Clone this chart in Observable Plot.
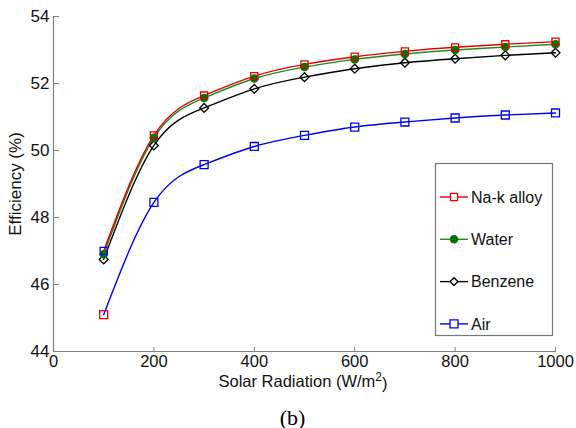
<!DOCTYPE html>
<html><head><meta charset="utf-8">
<script src="https://cdn.jsdelivr.net/npm/d3@7"></script>
<script src="https://cdn.jsdelivr.net/npm/@observablehq/plot@0.6"></script>
<style>body{margin:0;background:#fff}#chart{width:576px;height:428px}</style>
</head><body><div id="chart"></div>
<script>
const radiation = [100, 200, 300, 400, 500, 600, 700, 800, 900, 1000];
const naK     = [47.0, 50.45, 51.64, 52.22, 52.57, 52.80, 52.96, 53.08, 53.17, 53.25];
const water   = [46.9, 50.38, 51.57, 52.15, 52.49, 52.72, 52.88, 53.00, 53.09, 53.17];
const benzene = [46.75, 50.15, 51.27, 51.84, 52.19, 52.44, 52.62, 52.74, 52.84, 52.92];
const air     = [45.1, 48.45, 49.58, 50.12, 50.45, 50.70, 50.85, 50.97, 51.06, 51.12];
const seriesNames = ["Na-k alloy", "Water", "Benzene", "Air"];
const xTicks = [0, 200, 400, 600, 800, 1000];
const yTicks = [44, 46, 48, 50, 52, 54];

const valuesByName = {"Na-k alloy": naK, "Water": water, "Benzene": benzene, "Air": air};
const styleByName = {
  "Na-k alloy": {color: "#e60000", symbol: "square", fill: "none", r: 4},
  "Water": {color: "#1e8c1e", dotColor: "#007800", symbol: "circle", fill: "#007800", r: 3.6},
  "Benzene": {color: "#000000", symbol: "diamond2", fill: "none", r: 4},
  "Air": {color: "#0000f0", symbol: "square", fill: "none", r: 4.5}
};
// in the original the first markers of Na-k and Air are swapped in colour
const swapFirst = {"Na-k alloy": "Air", "Air": "Na-k alloy"};

const rows = seriesNames.flatMap(name => radiation.map((x, i) => ({x, y: valuesByName[name][i], name, i})));
const drawOrder = ["Air", "Benzene", "Water", "Na-k alloy"];

const font = "Liberation Sans, Arial, sans-serif";
const lines = drawOrder.map(name => Plot.line(rows.filter(d => d.name === name), {
  x: "x", y: "y", stroke: styleByName[name].color, strokeWidth: 1.4, curve: "natural"
}));
const dots = drawOrder.map(name => {
  const s = styleByName[name];
  const col = d => (d.i === 0 && swapFirst[name]) ? styleByName[swapFirst[name]].color : (s.dotColor || s.color);
  return Plot.dot(rows.filter(d => d.name === name), {
    x: "x", y: "y", symbol: () => s.symbol, r: s.r,
    stroke: col, fill: s.fill === "none" ? "none" : col, strokeWidth: 1.3
  });
});

const chart = Plot.plot({
  width: 576, height: 428,
  marginLeft: 53, marginRight: 21, marginTop: 16, marginBottom: 77,
  style: {fontFamily: font, fontSize: "17px", color: "#111", background: "#fff"},
  x: {domain: [0, 1000]},
  y: {domain: [44, 54]},
  marks: [
    Plot.ruleY([44], {stroke: "#808080", strokeWidth: 1.2}),
    Plot.ruleX([0], {stroke: "#808080", strokeWidth: 1.2}),
    Plot.axisX({ticks: xTicks, anchor: "top", frameAnchor: "bottom", tickSize: 5, text: null, stroke: "#808080", label: null}),
    Plot.axisY({ticks: yTicks, anchor: "right", frameAnchor: "left", tickSize: 5, text: null, stroke: "#808080", label: null}),
    Plot.axisX({ticks: xTicks, tickFormat: d => String(d), tickSize: 0, tickPadding: 4, fontSize: 16.5, label: null, fill: "#111"}),
    Plot.axisY({ticks: yTicks, tickFormat: d => String(d), tickSize: 0, tickPadding: 4, fontSize: 17, label: null, fill: "#111"}),
    ...lines,
    ...dots,
    Plot.text(["Solar Radiation (W/m2)"], {frameAnchor: "bottom", lineAnchor: "bottom", dy: 35, dx: -1.5, fontSize: 16.5, fill: "#111", className: "xlabel"}),
    Plot.text(["Efficiency (%)"], {frameAnchor: "left", textAnchor: "middle", rotate: -90, dx: -38, fontSize: 17, fill: "#111"}),
    Plot.text(["(b)"], {frameAnchor: "bottom", lineAnchor: "bottom", dy: 73, dx: -12, fontSize: 22, fontFamily: "Liberation Serif, Times New Roman, serif", fill: "#000"})
  ]
});
document.getElementById("chart").appendChild(chart);

const svg = d3.select(chart);
// superscript 2 in the x label
svg.selectAll(".xlabel text").each(function () {
  const t = d3.select(this);
  const full = t.text();
  const base = full.slice(0, full.lastIndexOf("2"));
  t.text(null);
  t.append("tspan").text(base);
  t.append("tspan").attr("dy", "-0.45em").attr("font-size", "12").text("2");
  t.append("tspan").attr("dy", "0.45em").text(")");
});

// legend
const lg = svg.append("g").attr("font-family", font).attr("font-size", 16).attr("text-anchor", "start");
lg.append("rect").attr("x", 435.5).attr("y", 163.5).attr("width", 117).attr("height", 172)
  .attr("fill", "#fff").attr("stroke", "#777").attr("stroke-width", 1.2);
seriesNames.forEach((name, k) => {
  const s = styleByName[name];
  const cy = 197 + k * 42.3;
  const g = lg.append("g");
  g.append("line").attr("x1", 440).attr("x2", 468).attr("y1", cy).attr("y2", cy)
    .attr("stroke", s.color).attr("stroke-width", 1.4);
  const sym = {square: d3.symbolSquare, circle: d3.symbolCircle, diamond2: d3.symbolSquare}[s.symbol];
  const size = Math.PI * s.r * s.r * (s.symbol === "diamond2" ? 0.6 : 1);
  g.append("path").attr("d", d3.symbol(sym, size)())
    .attr("transform", `translate(454,${cy})` + (s.symbol === "diamond2" ? " rotate(45)" : ""))
    .attr("fill", s.fill === "none" ? "#fff" : (s.dotColor || s.color))
    .attr("stroke", s.dotColor || s.color).attr("stroke-width", 1.3);
  g.append("text").attr("x", 471).attr("y", cy).attr("dy", "0.35em").attr("text-anchor", "start").attr("fill", "#111").text(name);
});
</script>
</body></html>
